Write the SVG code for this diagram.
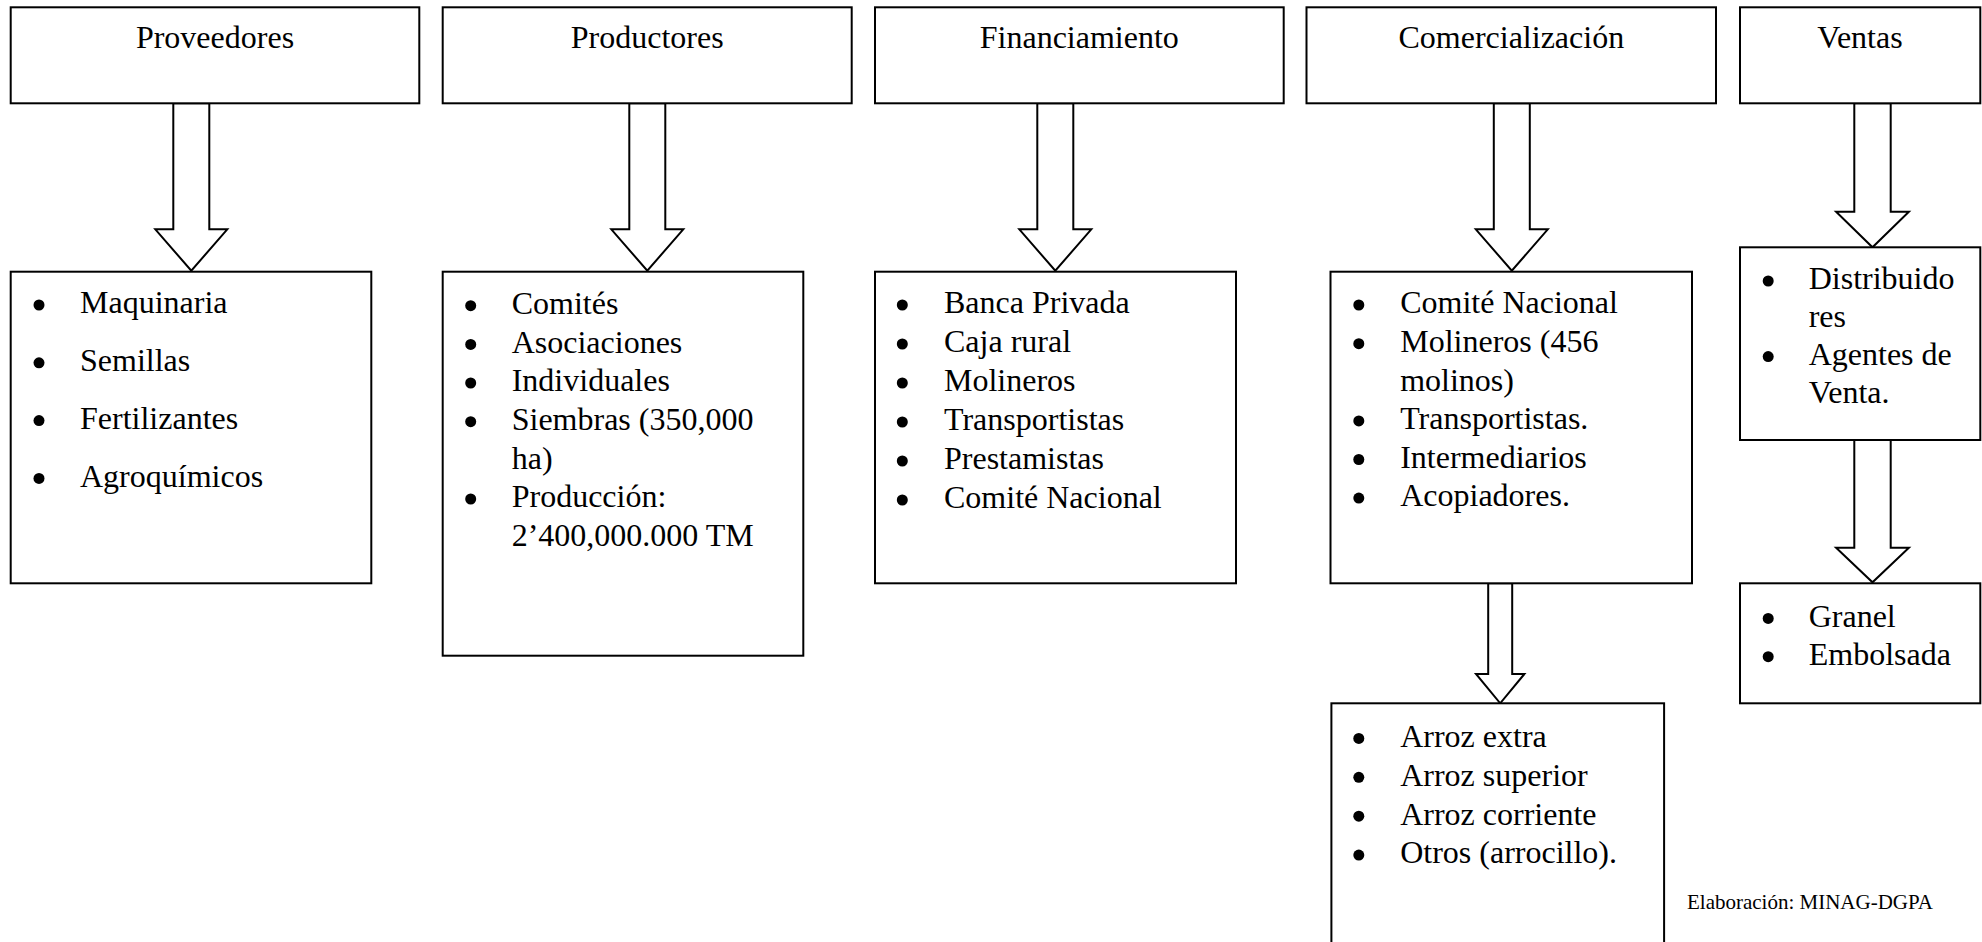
<svg xmlns="http://www.w3.org/2000/svg" width="1982" height="942" viewBox="0 0 1982 942">
<style>
.box{fill:#fff;stroke:#000;stroke-width:2}
.arr{fill:#fff;stroke:#000;stroke-width:2;stroke-linejoin:miter}
text{font-family:"Liberation Serif","Times New Roman",serif;font-size:32px;fill:#000}
.t{text-anchor:middle}
.b{fill:#000}
.note{font-size:21px}
</style>
<rect width="1982" height="942" fill="#fff"/>
<g id="connectors">
<polygon class="arr" points="173.3,103.3 209.3,103.3 209.3,229.3 227.3,229.3 191.3,270.7 155.3,229.3 173.3,229.3"/>
<polygon class="arr" points="629.3,103.3 665.3,103.3 665.3,229.3 683.3,229.3 647.3,270.7 611.3,229.3 629.3,229.3"/>
<polygon class="arr" points="1037.3,103.3 1073.3,103.3 1073.3,229.3 1091.3,229.3 1055.3,270.7 1019.3,229.3 1037.3,229.3"/>
<polygon class="arr" points="1493.8,103.3 1529.8,103.3 1529.8,229.3 1547.8,229.3 1511.8,270.7 1475.8,229.3 1493.8,229.3"/>
<polygon class="arr" points="1854.3,103.3 1890.7,103.3 1890.7,211.7 1908.9,211.7 1872.5,247.3 1836.1,211.7 1854.3,211.7"/>
<polygon class="arr" points="1854.3,440 1890.7,440 1890.7,547.7 1908.9,547.7 1872.5,582.3 1836.1,547.7 1854.3,547.7"/>
<polygon class="arr" points="1488.2,583.3 1512.2,583.3 1512.2,674 1524.4,674 1500.2,703.3 1476,674 1488.2,674"/>
</g>
<g id="proveedores">
<rect class="box" x="10.7" y="7.3" width="408.6" height="96"/>
<text class="t" x="215" y="48">Proveedores</text>
</g>
<g id="productores">
<rect class="box" x="442.7" y="7.3" width="409" height="96"/>
<text class="t" x="647.2" y="48">Productores</text>
</g>
<g id="financiamiento">
<rect class="box" x="875" y="7.3" width="408.7" height="96"/>
<text class="t" x="1079.3" y="48">Financiamiento</text>
</g>
<g id="comercializacion">
<rect class="box" x="1306.5" y="7.3" width="409.5" height="96"/>
<text class="t" x="1511.3" y="48">Comercialización</text>
</g>
<g id="ventas">
<rect class="box" x="1740" y="7.3" width="240.3" height="96"/>
<text class="t" x="1860" y="48">Ventas</text>
</g>
<g id="proveedores-lista">
<rect class="box" x="10.7" y="271.7" width="360.6" height="311.6"/>
<circle class="b" cx="39" cy="305" r="5.5"/><text x="80" y="313.3">Maquinaria</text>
<circle class="b" cx="39" cy="362.8" r="5.5"/><text x="80" y="371.1">Semillas</text>
<circle class="b" cx="39" cy="420.6" r="5.5"/><text x="80" y="428.9">Fertilizantes</text>
<circle class="b" cx="39" cy="478.4" r="5.5"/><text x="80" y="486.7">Agroquímicos</text>
</g>
<g id="productores-lista">
<rect class="box" x="442.7" y="271.7" width="360.6" height="384"/>
<circle class="b" cx="470.7" cy="305.7" r="5.5"/><text x="511.7" y="314">Comités</text>
<circle class="b" cx="470.7" cy="344.4" r="5.5"/><text x="511.7" y="352.7">Asociaciones</text>
<circle class="b" cx="470.7" cy="383" r="5.5"/><text x="511.7" y="391.3">Individuales</text>
<circle class="b" cx="470.7" cy="421.7" r="5.5"/><text x="511.7" y="430">Siembras (350,000</text>
<text x="511.7" y="468.7">ha)</text>
<circle class="b" cx="470.7" cy="499" r="5.5"/><text x="511.7" y="507.3">Producción:</text>
<text x="511.7" y="546">2’400,000.000 TM</text>
</g>
<g id="financiamiento-lista">
<rect class="box" x="875" y="271.7" width="361" height="311.6"/>
<circle class="b" cx="902.3" cy="305" r="5.5"/><text x="944" y="313.3">Banca Privada</text>
<circle class="b" cx="902.3" cy="344" r="5.5"/><text x="944" y="352.3">Caja rural</text>
<circle class="b" cx="902.3" cy="383" r="5.5"/><text x="944" y="391.3">Molineros</text>
<circle class="b" cx="902.3" cy="422" r="5.5"/><text x="944" y="430.3">Transportistas</text>
<circle class="b" cx="902.3" cy="461" r="5.5"/><text x="944" y="469.3">Prestamistas</text>
<circle class="b" cx="902.3" cy="500" r="5.5"/><text x="944" y="508.3">Comité Nacional</text>
</g>
<g id="comercializacion-lista">
<rect class="box" x="1330.5" y="271.7" width="361.5" height="311.6"/>
<circle class="b" cx="1358.8" cy="305" r="5.5"/><text x="1400.2" y="313.3">Comité Nacional</text>
<circle class="b" cx="1358.8" cy="343.7" r="5.5"/><text x="1400.2" y="352">Molineros (456</text>
<text x="1400.2" y="390.6">molinos)</text>
<circle class="b" cx="1358.8" cy="420.9" r="5.5"/><text x="1400.2" y="429.2">Transportistas.</text>
<circle class="b" cx="1358.8" cy="459.5" r="5.5"/><text x="1400.2" y="467.8">Intermediarios</text>
<circle class="b" cx="1358.8" cy="498.1" r="5.5"/><text x="1400.2" y="506.4">Acopiadores.</text>
</g>
<g id="arroz-lista">
<rect class="box" x="1331.4" y="703.3" width="332.7" height="245"/>
<circle class="b" cx="1358.8" cy="738.4" r="5.5"/><text x="1400.2" y="746.7">Arroz extra</text>
<circle class="b" cx="1358.8" cy="777.3" r="5.5"/><text x="1400.2" y="785.6">Arroz superior</text>
<circle class="b" cx="1358.8" cy="816.2" r="5.5"/><text x="1400.2" y="824.5">Arroz corriente</text>
<circle class="b" cx="1358.8" cy="855.1" r="5.5"/><text x="1400.2" y="863.4">Otros (arrocillo).</text>
</g>
<g id="ventas-agentes">
<rect class="box" x="1740" y="247.3" width="240.3" height="192.7"/>
<circle class="b" cx="1768.2" cy="281" r="5.5"/><text x="1808.7" y="289.3">Distribuido</text>
<text x="1808.7" y="327">res</text>
<circle class="b" cx="1768.2" cy="356.6" r="5.5"/><text x="1808.7" y="364.9">Agentes de</text>
<text x="1808.7" y="402.7">Venta.</text>
</g>
<g id="ventas-tipo">
<rect class="box" x="1740" y="583.3" width="240.3" height="120"/>
<circle class="b" cx="1768.2" cy="618.4" r="5.5"/><text x="1808.7" y="626.7">Granel</text>
<circle class="b" cx="1768.2" cy="656.7" r="5.5"/><text x="1808.7" y="665">Embolsada</text>
</g>
<g id="fuente">
<text class="note" x="1687" y="909">Elaboración: MINAG-DGPA</text>
</g>
</svg>
